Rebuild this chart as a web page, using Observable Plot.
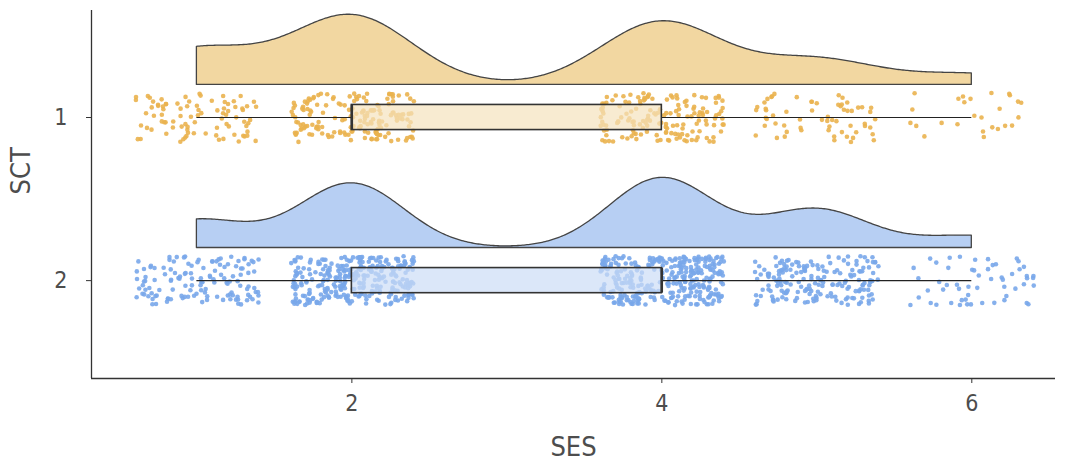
<!DOCTYPE html>
<html>
<head>
<meta charset="utf-8">
<script src="https://cdn.jsdelivr.net/npm/d3@7"></script>
<script src="https://cdn.jsdelivr.net/npm/@observablehq/plot@0.6"></script>
<style>
  html, body { margin: 0; padding: 0; background: #fff; }
  #chart svg { display: block; }
</style>
</head>
<body>
<div id="chart"></div>
<script>
// ---- data ----
const sesLevels = [1, 2, 3, 4, 5, 6];
const sctGroups = [1, 2];
const countsSCT1 = [88, 170, 0, 155, 62, 26];
const countsSCT2 = [132, 305, 0, 330, 182, 56];
const xTicks = [2, 4, 6];
const yTicks = [1, 2];

const pointColors = ["#EAB24F", "#79A7EA"];
const cloudColors = ["#F2D7A1", "#B7CFF3"];
const boxColors = ["#F5E2BD", "#CCDDF6"];

// ---- expand counts into observations (jitter is layout only) ----
const countsByGroup = [countsSCT1, countsSCT2];
const rng = d3.randomLcg(0.4217);
const obs = [];
sctGroups.forEach((g, gi) => {
  sesLevels.forEach((s, si) => {
    for (let k = 0; k < countsByGroup[gi][si]; k++) {
      obs.push({ SCT: g, SES: s, gi, jx: (rng() * 2 - 1) * 0.4, jy: (rng() * 2 - 1) * 0.15 });
    }
  });
});

// ---- densities (gaussian kernel, nrd0 bandwidth, trimmed to range) ----
function nrd0(v) {
  const sd = d3.deviation(v);
  const iqr = d3.quantile(v, 0.75) - d3.quantile(v, 0.25);
  let lo = Math.min(sd, iqr / 1.34);
  if (!(lo > 0)) lo = sd || Math.abs(v[0]) || 1;
  return 0.9 * lo * Math.pow(v.length, -0.2);
}
const clouds = [];
const boxes = [];
const whiskers = [];
const medians = [];
sctGroups.forEach((g, gi) => {
  const v = obs.filter(d => d.gi === gi).map(d => d.SES).sort(d3.ascending);
  const h = nrd0(v);
  const lo = d3.min(v), hi = d3.max(v);
  const pts = d3.range(512).map(i => {
    const x = lo + (hi - lo) * i / 511;
    let s = 0;
    for (const xi of v) { const z = (x - xi) / h; s += Math.exp(-0.5 * z * z); }
    return { x, d: s / (v.length * h * Math.sqrt(2 * Math.PI)) };
  });
  const maxD = d3.max(pts, p => p.d);
  const base = g - 0.2;
  pts.forEach(p => clouds.push({ gi, x: p.x, y1: base, y2: base - 0.43 * p.d / maxD }));
  const q1 = d3.quantile(v, 0.25), q3 = d3.quantile(v, 0.75), med = d3.quantile(v, 0.5);
  const iqr = q3 - q1;
  const wl = d3.min(v.filter(x => x >= q1 - 1.5 * iqr));
  const wh = d3.max(v.filter(x => x <= q3 + 1.5 * iqr));
  boxes.push({ gi, x1: q1, x2: q3, y1: g - 0.077, y2: g + 0.077 });
  medians.push({ gi, x: med, y1: g - 0.077, y2: g + 0.077 });
  whiskers.push({ gi, x1: wl, x2: q1, y: g });
  whiskers.push({ gi, x1: q3, x2: wh, y: g });
});

const xDomain = [0.32, 6.54];
const yDomain = [0.344, 2.6];
const font = "'DejaVu Sans Condensed', 'Liberation Sans Narrow', 'DejaVu Sans', sans-serif";

const chart = Plot.plot({
  width: 1068,
  height: 467,
  marginLeft: 91,
  marginRight: 13,
  marginTop: 10,
  marginBottom: 89,
  style: { fontFamily: font, fontSize: "17px", background: "#fff" },
  x: { domain: xDomain, axis: null },
  y: { domain: yDomain, reverse: true, axis: null },
  marks: [
    Plot.dot(obs, {
      x: d => d.SES + d.jx, y: d => d.SCT + d.jy, r: 2.3,
      fill: d => pointColors[d.gi], fillOpacity: 0.9, stroke: null
    }),
    Plot.ruleY(whiskers, { x1: "x1", x2: "x2", y: "y", stroke: "#222", strokeWidth: 1.1 }),
    Plot.rect(boxes, {
      x1: "x1", x2: "x2", y1: "y1", y2: "y2",
      fill: d => boxColors[d.gi], fillOpacity: 0.7, stroke: "#333", strokeWidth: 1.6
    }),
    Plot.ruleX(medians, { x: "x", y1: "y1", y2: "y2", stroke: "#333", strokeWidth: 2.4 }),
    ...[0, 1].map(gi => Plot.areaY(clouds.filter(d => d.gi === gi), {
      x: "x", y1: "y1", y2: "y2",
      fill: cloudColors[gi], stroke: "#444", strokeWidth: 1.3, curve: "linear"
    })),
    Plot.ruleX([xDomain[0]], { stroke: "#333", strokeWidth: 1.3 }),
    Plot.ruleY([yDomain[1]], { stroke: "#333", strokeWidth: 1.3 }),
    Plot.axisX({ ticks: xTicks, tickFormat: () => "", tickSize: 5, stroke: "#333", label: null, ariaLabel: "ses-ticks" }),
    Plot.axisY({ ticks: yTicks, tickFormat: () => "", tickSize: 5, stroke: "#333", label: null, ariaLabel: "sct-ticks" }),
    Plot.text(xTicks, { x: d => d, text: d => String(d), frameAnchor: "bottom", dy: 32, fontSize: 23, fill: "#4d4d4d" }),
    Plot.text(yTicks, { y: d => d, text: d => String(d), frameAnchor: "left", dx: -24, textAnchor: "end", fontSize: 23, fill: "#4d4d4d" }),
    Plot.text(["SES"], { frameAnchor: "bottom", dy: 77, fontSize: 27, fill: "#4d4d4d" }),
    Plot.text(["SCT"], { frameAnchor: "left", dx: -70, dy: 0, rotate: -90, fontSize: 27, fill: "#4d4d4d" })
  ]
});
document.getElementById("chart").appendChild(chart);
</script>
</body>
</html>
